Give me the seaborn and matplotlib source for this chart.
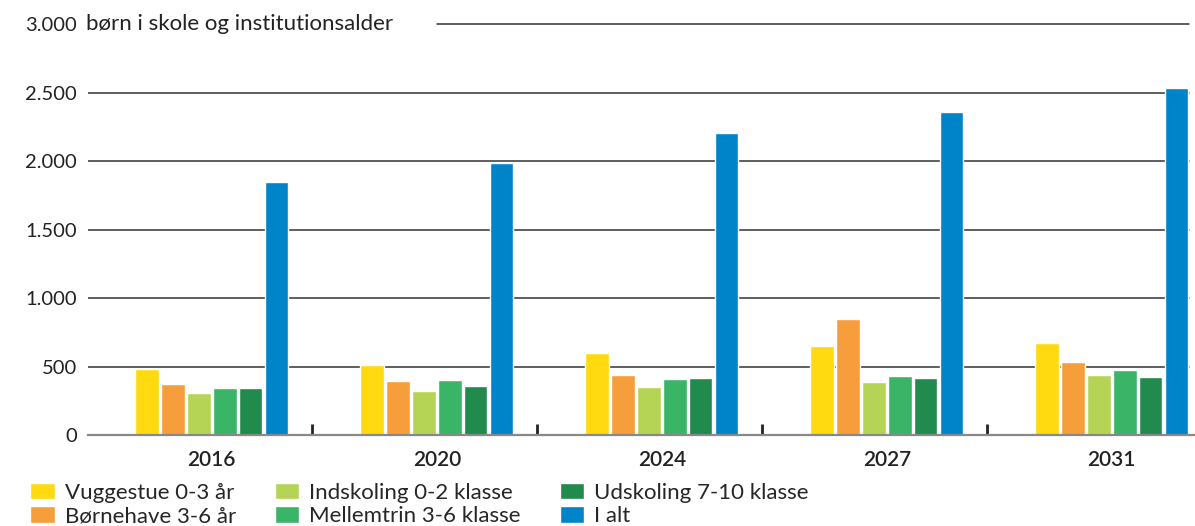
import pandas as pd
import matplotlib.pyplot as plt
import seaborn as sns

# Data
years = ["2016", "2020", "2024", "2027", "2031"]
groups = ["Vuggestue 0-3 år", "Børnehave 3-6 år", "Indskoling 0-2 klasse",
          "Mellemtrin 3-6 klasse", "Udskoling 7-10 klasse", "I alt"]
vuggestue = [481, 510, 598, 649, 671]
boernehave = [374, 394, 437, 845, 532]
indskoling = [306, 321, 350, 386, 437]
mellemtrin = [343, 401, 408, 430, 474]
udskoling = [343, 357, 415, 415, 423]
i_alt = [1844, 1982, 2208, 2361, 2536]
colors = ["#FFDA10", "#F69E3B", "#B5D456", "#3AB568", "#218A4D", "#0084C9"]
yticks = [0, 500, 1000, 1500, 2000, 2500, 3000]

series = [vuggestue, boernehave, indskoling, mellemtrin, udskoling, i_alt]
rows = []
for name, vals in zip(groups, series):
    for yr, v in zip(years, vals):
        rows.append({"year": yr, "group": name, "value": v})
df = pd.DataFrame(rows)

sns.set_style("white")
plt.rcParams["font.family"] = ["Lato", "DejaVu Sans"]

fig = plt.figure(figsize=(11.95, 5.26), dpi=100)
ax = fig.add_axes([88 / 1195, 1 - 435 / 526, 1 - 88 / 1195, (435 - 24) / 526])

sns.barplot(data=df, x="year", y="value", hue="group", hue_order=groups,
            palette=colors, width=0.69, gap=0.08, saturation=1,
            ax=ax, legend=True)

ax.set_ylim(0, 3000)
ax.set_xlim(-0.55, 4.37)
ax.set_yticks(yticks)
ax.set_yticklabels([f"{v:,}".replace(",", ".") for v in yticks], fontsize=14.5, color="#222222")
ax.set_xlabel("")
ax.set_ylabel("")
ax.tick_params(axis="y", length=0, pad=8)
ax.tick_params(axis="x", length=0, pad=11, labelsize=15, labelcolor="#222222")
for lbl in ax.get_xticklabels():
    lbl.set_fontweight("semibold")

# horizontal grid lines
for v in yticks[1:-1]:
    ax.axhline(v, xmax=0.995, color="#333333", lw=1.1, zorder=0)
ax.axhline(3000, xmin=(437 - 88) / (1195 - 88), xmax=0.995, color="#333333", lw=1.1, clip_on=False)

for s in ["top", "right", "left"]:
    ax.spines[s].set_visible(False)
ax.spines["bottom"].set_color("#888888")
ax.spines["bottom"].set_linewidth(1.6)

# small ticks between year groups
ax.set_xticks([0.447, 1.447, 2.447, 3.447], minor=True)
ax.tick_params(axis="x", which="minor", bottom=True, direction="in", length=8, width=2, color="#222222")

fig.text(86 / 1195, ax.transData.transform((0, 3000))[1] / 526, "børn i skole og institutionsalder",
         fontsize=16, color="#222222", va="center", ha="left")

ax.legend(loc="upper left", bbox_to_anchor=(-0.06, -0.095), ncol=3, frameon=False,
          fontsize=16, handlelength=1.1, handleheight=0.75, handletextpad=0.45,
          columnspacing=1.75, labelspacing=0.15, borderaxespad=0)

fig.savefig("out.png", dpi=100)
